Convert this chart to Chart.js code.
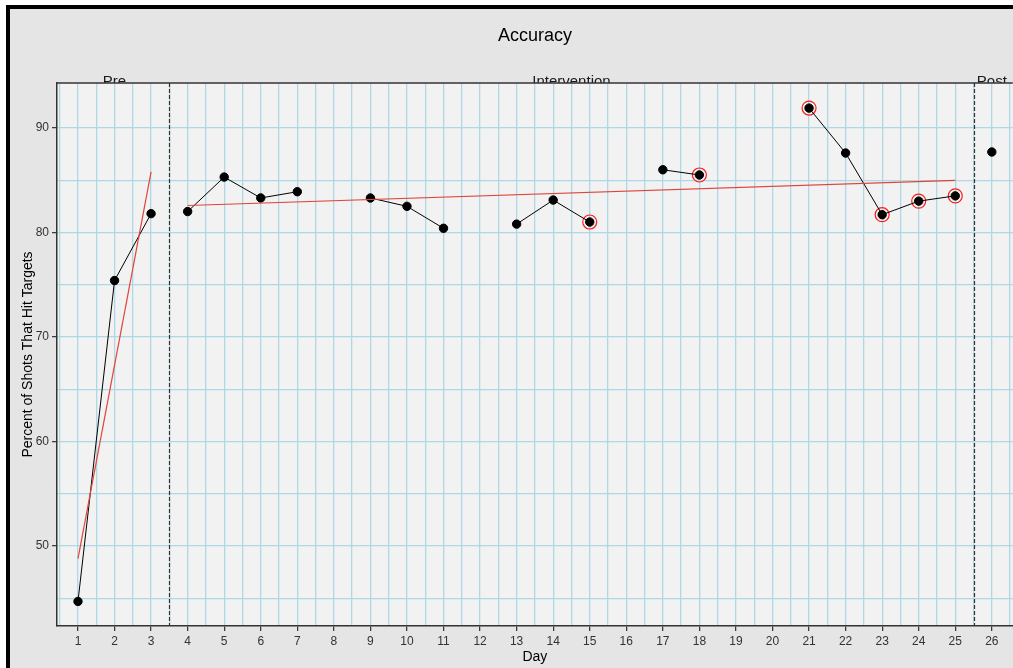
<!DOCTYPE html>
<html>
<head>
<meta charset="utf-8">
<script src="https://cdn.jsdelivr.net/npm/chart.js@4.4.1/dist/chart.umd.min.js"></script>
<style>
  html, body { margin: 0; padding: 0; background: #fff; overflow: hidden; }
  #wrap { position: relative; width: 1013px; height: 668px; overflow: hidden; }
</style>
</head>
<body>
<div id="wrap"><canvas id="accChart" width="1021" height="668"></canvas></div>
<script>
// ---- data ----
const preDays = [1, 2, 3];
const preValues = [44.7, 75.4, 81.8];

const intDays = [4, 5, 6, 7, 8, 9, 10, 11, 12, 13, 14, 15, 16, 17, 18, 19, 20, 21, 22, 23, 24, 25];
const intValues = [82.0, 85.3, 83.3, 83.9, null, 83.3, 82.5, 80.4, null, 80.8, 83.1, 81.0, null, 86.0, 85.5, null, null, 91.9, 87.6, 81.7, 83.0, 83.5];

const postDays = [26];
const postValues = [87.7];

// days flagged with a red ring
const circledDays = [15, 18, 21, 23, 24, 25];

// fitted trend lines (end points)
const preTrendDays = [1, 3];
const preTrend = [48.8, 85.8];
const intTrendDays = [4, 25];
const intTrend = [82.58, 84.98];

const phaseNames = ["Pre", "Intervention", "Post"];
const phaseCenters = [2, 14.5, 26];
const phaseChanges = [3.5, 25.5];

const xTickDays = [];
for (let d = 0.5; d <= 26.5; d += 0.5) xTickDays.push(d);
const yTickValues = [45, 50, 55, 60, 65, 70, 75, 80, 85, 90];

const X_MIN = 0.426, X_MAX = 26.574;
const Y_MIN = 42.35, Y_MAX = 94.3;

function pts(days, vals) {
  return days.map((d, i) => ({ x: d, y: vals[i] }));
}

const allDays = preDays.concat(intDays, postDays);
const allVals = preValues.concat(intValues, postValues);
const circled = circledDays.map(d => ({ x: d, y: allVals[allDays.indexOf(d)] }));

// backgrounds, frame, title and phase labels
const decor = {
  id: 'decor',
  beforeDraw(chart) {
    const { ctx, chartArea: a, width, height } = chart;
    ctx.save();
    ctx.fillStyle = '#ffffff';
    ctx.fillRect(0, 0, width, height);
    ctx.fillStyle = '#e5e5e5';
    ctx.fillRect(9, 9, width, height);

    // phase labels sit just above the panel and are clipped by it
    const xs = chart.scales.x;
    ctx.fillStyle = '#1a1a1a';
    ctx.font = '15px "Liberation Sans", Arial, sans-serif';
    ctx.textAlign = 'center';
    ctx.textBaseline = 'alphabetic';
    phaseNames.forEach((name, i) => {
      ctx.fillText(name, xs.getPixelForValue(phaseCenters[i]), a.top + 3);
    });

    ctx.fillStyle = '#f2f2f2';
    ctx.fillRect(a.left, a.top, a.right - a.left, a.bottom - a.top);

    // outer black frame
    ctx.fillStyle = '#000';
    ctx.fillRect(6, 5, 4, height);
    ctx.fillRect(6, 5, width, 4);

    // title
    ctx.fillStyle = '#000';
    ctx.font = '18px "Liberation Sans", Arial, sans-serif';
    ctx.textBaseline = 'middle';
    ctx.fillText('Accuracy', (a.left + a.right) / 2, 36);

    // axis titles
    ctx.font = '14px "Liberation Sans", Arial, sans-serif';
    ctx.fillText('Day', (a.left + a.right) / 2, 657);
    ctx.translate(28, (a.top + a.bottom) / 2);
    ctx.rotate(-Math.PI / 2);
    ctx.fillText('Percent of Shots That Hit Targets', 0, 0);
    ctx.restore();
  },
  beforeDatasetsDraw(chart) {
    const { ctx, chartArea: a } = chart;
    const xs = chart.scales.x;
    ctx.save();
    ctx.strokeStyle = '#333';
    ctx.lineWidth = 1.2;
    ctx.setLineDash([4, 2]);
    phaseChanges.forEach(v => {
      const px = Math.round(xs.getPixelForValue(v)) + 0.5;
      ctx.beginPath();
      ctx.moveTo(px, a.top);
      ctx.lineTo(px, a.bottom);
      ctx.stroke();
    });
    ctx.setLineDash([]);
    ctx.lineWidth = 1.5;
    ctx.beginPath();
    ctx.moveTo(a.left, a.top);
    ctx.lineTo(a.right, a.top);
    ctx.stroke();
    ctx.restore();
  }
};

const dataLine = {
  borderColor: '#000',
  backgroundColor: '#000',
  borderWidth: 1,
  pointRadius: 4.2,
  pointHoverRadius: 4.2,
  spanGaps: false,
  tension: 0
};
const trendLine = {
  borderColor: '#e0453a',
  borderWidth: 1.2,
  pointRadius: 0,
  fill: false,
  tension: 0
};

new Chart(document.getElementById('accChart'), {
  type: 'line',
  data: {
    datasets: [
      Object.assign({ label: 'Pre trend', data: pts(preTrendDays, preTrend) }, trendLine),
      Object.assign({ label: 'Intervention trend', data: pts(intTrendDays, intTrend) }, trendLine),
      Object.assign({ label: 'Pre', data: pts(preDays, preValues) }, dataLine),
      Object.assign({ label: 'Intervention', data: pts(intDays, intValues) }, dataLine),
      Object.assign({ label: 'Post', data: pts(postDays, postValues) }, dataLine),
      {
        label: 'Flagged',
        data: circled,
        showLine: false,
        pointRadius: 7,
        pointHoverRadius: 7,
        pointBorderWidth: 1.2,
        pointBorderColor: '#ff1a1a',
        pointBackgroundColor: 'rgba(0,0,0,0)'
      }
    ]
  },
  options: {
    responsive: false,
    animation: false,
    events: [],
    layout: { padding: { top: 83, left: 0, right: 0, bottom: 0 } },
    plugins: { legend: { display: false }, tooltip: { enabled: false }, title: { display: false } },
    scales: {
      x: {
        type: 'linear',
        min: X_MIN,
        max: X_MAX,
        afterBuildTicks: s => { s.ticks = xTickDays.map(v => ({ value: v })); },
        afterFit: s => { s.height = 42; s.paddingLeft = 0; s.paddingRight = 0; },
        border: { display: true, color: '#333', width: 1.5 },
        grid: {
          color: '#add8e6',
          lineWidth: 1.3,
          drawTicks: true,
          tickLength: 5,
          tickWidth: 1.2,
          tickColor: c => (c.tick && c.tick.value % 1 === 0) ? '#333' : 'rgba(0,0,0,0)'
        },
        ticks: {
          autoSkip: false,
          maxRotation: 0,
          padding: 3,
          color: '#333',
          font: { family: '"Liberation Sans", Arial, sans-serif', size: 12 },
          callback: v => (v % 1 === 0 ? String(v) : '')
        }
      },
      y: {
        type: 'linear',
        min: Y_MIN,
        max: Y_MAX,
        afterBuildTicks: s => { s.ticks = yTickValues.map(v => ({ value: v })); },
        afterFit: s => { s.width = 57; s.paddingTop = 0; s.paddingBottom = 0; },
        border: { display: true, color: '#333', width: 1.5 },
        grid: {
          color: '#add8e6',
          lineWidth: 1.3,
          drawTicks: true,
          tickLength: 5,
          tickWidth: 1.2,
          tickColor: c => (c.tick && c.tick.value % 10 === 0) ? '#333' : 'rgba(0,0,0,0)'
        },
        ticks: {
          autoSkip: false,
          padding: 3,
          color: '#333',
          font: { family: '"Liberation Sans", Arial, sans-serif', size: 12 },
          callback: v => (v % 10 === 0 ? String(v) : '')
        }
      }
    }
  },
  plugins: [decor]
});
</script>
</body>
</html>
